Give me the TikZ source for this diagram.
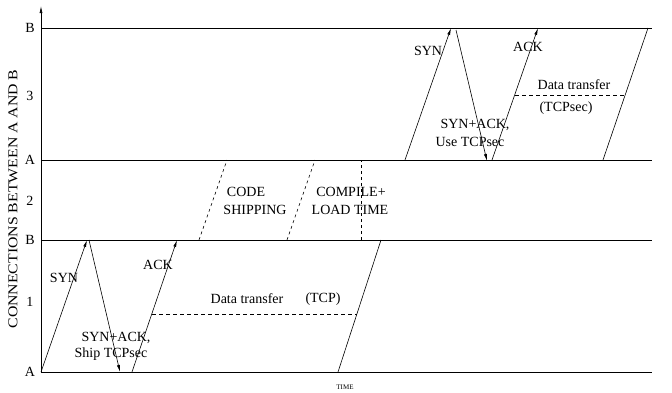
\documentclass[tikz,border=0pt]{standalone}
\usepackage{fontspec}
\setmainfont{Liberation Serif}
\usetikzlibrary{arrows.meta, positioning}
\tikzset{
  lbl/.style={font=\fontsize{14}{16}\selectfont, inner sep=0pt},
  msg/.style={-{Latex[length=7pt,width=3pt]}, line width=0.6pt},
  lvl/.style={line width=0.7pt},
  xfer/.style={dash pattern=on 4pt off 3pt, line width=0.6pt},
  phase/.style={dash pattern=on 3pt off 3pt, line width=0.6pt},
}
\begin{document}
\begin{tikzpicture}[x=1pt, y=-1pt]
\useasboundingbox (0,0) rectangle (672,392);
% --- Axes ---
\coordinate (orig) at (41,373);
\coordinate (ytop) at (41,6);
\draw[lvl, -{Latex[length=7pt,width=3pt]}] (orig) -- (ytop);
\node[font=\fontsize{13.5}{16}\selectfont, inner sep=0pt, rotate=90] (ylab) at (13,199) {\scalebox{1.17}[1]{CONNECTIONS BETWEEN A AND B}};
\node[font=\fontsize{7}{8}\selectfont, inner sep=0pt] (xlab) at (345,387) {TIME};

% Level lines A / B for each connection
\foreach \nm/\y/\t in {b3/28/B, a2/160/A, b1/240/B, a1/372/A} {
  \coordinate (\nm s) at (41,\y);
  \coordinate (\nm e) at (652,\y);
  \draw[lvl] (\nm s) -- (\nm e);
  \node[lbl] (\nm lab) at (30,\y) {\t};
}
\node[lbl] (c3) at (30,96) {3};
\node[lbl] (c2) at (30,201) {2};
\node[lbl] (c1) at (30,302) {1};

% --- Connection 1: plain TCP ---
\coordinate (syn1s) at (41,372);
\coordinate (syn1e) at (87,240);
\coordinate (sa1s) at (89,240);
\coordinate (sa1e) at (120,372);
\coordinate (ack1s) at (132,372);
\coordinate (ack1e) at (177,240);
\coordinate (dt1s) at (152,314);
\coordinate (dt1e) at (357,314);
\coordinate (end1s) at (338,372);
\coordinate (end1e) at (381,240);
\draw[msg] (syn1s) -- (syn1e);
\draw[msg] (sa1s) -- (sa1e);
\draw[msg] (ack1s) -- (ack1e);
\draw[xfer] (dt1s) -- (dt1e);
\draw[line width=0.6pt] (end1s) -- (end1e);
\node[lbl] (syn1) at (64,278) {SYN};
\node[lbl] (ack1) at (158,265) {ACK};
\node[lbl] (sa1a) at (116,338) {SYN+ACK,};
\node[lbl] (sa1b) at (111,354) {Ship TCPsec};
\node[lbl] (dt1) at (247,299) {Data transfer};
\node[lbl] (tcp1) at (323,299) {(TCP)};

% --- Connection 2: shipping and compiling ---
\coordinate (ship1s) at (199,240);
\coordinate (ship1e) at (227,160);
\coordinate (ship2s) at (287,240);
\coordinate (ship2e) at (315,160);
\coordinate (loads) at (361,240);
\coordinate (loade) at (361,160);
\draw[phase] (ship1s) -- (ship1e);
\draw[phase] (ship2s) -- (ship2e);
\draw[phase] (loads) -- (loade);
\node[lbl] (code) at (246,192) {CODE};
\node[lbl] (shipping) at (255,210) {SHIPPING};
\node[lbl] (compile) at (351,192) {COMPILE+};
\node[lbl] (loadtime) at (350,210) {LOAD TIME};

% --- Connection 3: TCPsec ---
\coordinate (syn3s) at (405,160);
\coordinate (syn3e) at (451,28);
\coordinate (sa3s) at (456,30);
\coordinate (sa3e) at (487,161);
\coordinate (ack3s) at (492,160);
\coordinate (ack3e) at (538,28);
\coordinate (dt3s) at (515,95);
\coordinate (dt3e) at (625,95);
\coordinate (end3s) at (603,160);
\coordinate (end3e) at (648,28);
\draw[msg] (syn3s) -- (syn3e);
\draw[msg] (sa3s) -- (sa3e);
\draw[msg] (ack3s) -- (ack3e);
\draw[xfer] (dt3s) -- (dt3e);
\draw[line width=0.6pt] (end3s) -- (end3e);
\node[lbl] (syn3) at (428,51) {SYN};
\node[lbl] (ack3) at (528,47) {ACK};
\node[lbl] (dt3) at (574,85) {Data transfer};
\node[lbl] (tcp3) at (566,108) {(TCPsec)};
\node[lbl] (sa3a) at (475,125) {SYN+ACK,};
\node[lbl] (sa3b) at (470,142) {Use TCPsec};
\end{tikzpicture}
\end{document}
